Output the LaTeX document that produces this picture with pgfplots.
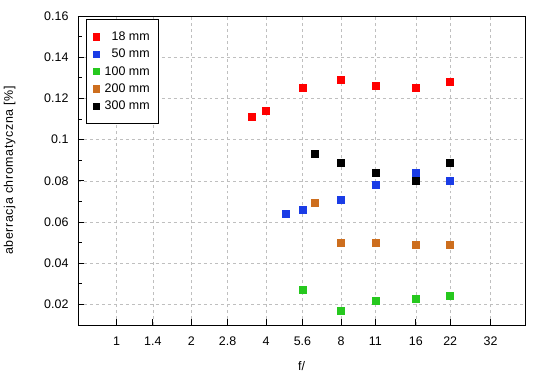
\documentclass[border=0pt]{standalone}
\usepackage{pgfplots}
\pgfplotsset{compat=1.18}
\usepackage{fontspec}
\setmainfont{Liberation Sans}
\newfontfamily\spaced[LetterSpace=5]{Liberation Sans}
\definecolor{cred}{RGB}{255,0,0}
\definecolor{cblue}{RGB}{26,60,230}
\definecolor{cgreen}{RGB}{38,200,30}
\definecolor{corange}{RGB}{205,110,30}
\pgfplotsset{sq/.style={only marks, mark=square*, mark size=3.5bp, color=#1, mark options={draw=#1, fill=#1, solid}}}
\begin{document}
\begin{tikzpicture}
\useasboundingbox (-78bp,-55bp) rectangle (472bp,325bp);
\begin{axis}[
  at={(0,0)}, anchor=south west,
  scale only axis, width=447bp, height=309bp,
  xmode=log, log basis x=2,
  xmin=0.7, xmax=44,
  ymin=0.01, ymax=0.16,
  xtick={1,1.4,2,2.8,4,5.6,8,11,16,22,32},
  xticklabels={1,1.4,2,2.8,4,5.6,8,11,16,22,32},
  ytick={0.02,0.04,0.06,0.08,0.1,0.12,0.14,0.16},
  yticklabels={0.02,0.04,0.06,0.08,0.1,0.12,0.14,0.16},
  minor y tick num=1,
  tick pos=left,
  tick align=inside,
  major tick length=6bp, minor tick length=4bp,
  grid=major,
  major grid style={gray!50, dashed, line width=0.6pt},
  axis line style={line width=0.9pt},
  tick style={black, line width=0.8pt},
  tick label style={font=\fontsize{12.5}{14}\selectfont},
  xticklabel style={yshift=-8bp},
  yticklabel style={xshift=-6bp},
  xlabel={f/}, ylabel={aberracja chromatyczna [\%]},
  xlabel style={font=\fontsize{12.5}{14}\selectfont, yshift=-9bp},
  ylabel style={font=\spaced\fontsize{12.5}{14}\selectfont, yshift=22bp},
  legend cell align=right,
  legend style={at={(rel axis cs:0.017,0.989)}, anchor=north west,
    font=\fontsize{12.5}{14}\selectfont, draw=black, line width=0.8pt,
    row sep=0bp, column sep=3.5bp, inner xsep=7.5bp, inner ysep=8.5bp,
    nodes={inner xsep=1.5bp, inner ysep=0bp, minimum height=17.3bp}},
  legend image code/.code={\draw[#1, mark size=3.1bp] plot coordinates {(0.2cm,0cm)};},
]
\addplot[sq=cred] table {
x y
3.5 0.111
4 0.114
5.6 0.125
8 0.129
11 0.126
16 0.125
22 0.128
};
\addlegendentry{18 mm}
\addplot[sq=cblue] table {
x y
4.8 0.064
5.6 0.066
8 0.071
11 0.078
16 0.084
22 0.080
};
\addlegendentry{50 mm}
\addplot[sq=cgreen] table {
x y
5.6 0.027
8 0.017
11 0.022
16 0.023
22 0.024
};
\addlegendentry{100 mm}
\addplot[sq=corange] table {
x y
6.3 0.0695
8 0.050
11 0.050
16 0.049
22 0.049
};
\addlegendentry{200 mm}
\addplot[sq=black] table {
x y
6.3 0.093
8 0.089
11 0.084
16 0.080
22 0.089
};
\addlegendentry{300 mm}
\end{axis}
\end{tikzpicture}
\end{document}
